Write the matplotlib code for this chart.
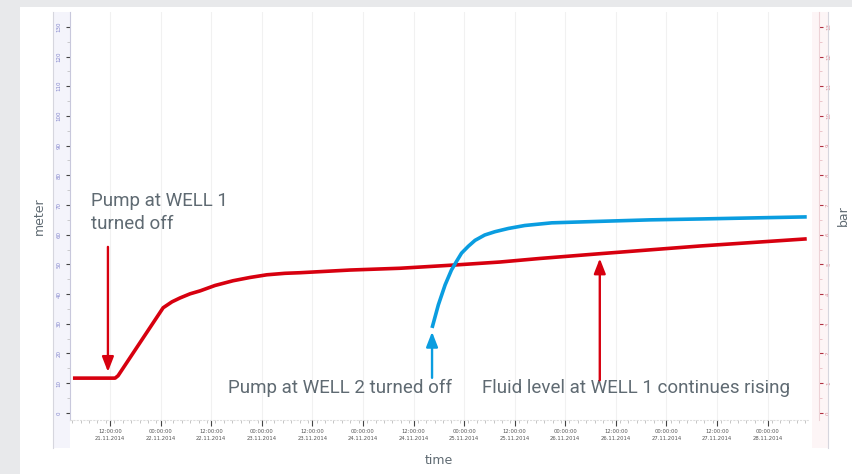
import datetime as dt
import matplotlib
matplotlib.use("Agg")
import matplotlib.pyplot as plt
import matplotlib.dates as mdates
from matplotlib.patches import Rectangle
from matplotlib.lines import Line2D

# hours after 21.11.2014 00:00
start = dt.datetime(2014, 11, 21)

red_hours = [3.2, 13.2, 13.9, 24.6, 26.7, 28.6, 31.0, 33.4, 36.9, 41.2, 45.2, 49.2,
             53.5, 57.1, 68.9, 80.8, 93.8, 104.5, 114.0, 128.2, 152.0, 177.3]
red_meter = [11.7, 11.7, 12.5, 35.4, 37.4, 38.7, 40.1, 41.1, 42.9, 44.5, 45.6, 46.5,
             47.0, 47.2, 48.1, 48.7, 49.8, 50.8, 52.0, 53.6, 56.2, 58.6]

blue_hours = [88.4, 89.9, 91.5, 93.0, 94.2, 95.4, 97.0, 98.6, 100.9, 103.3, 106.5,
              110.4, 116.8, 128.2, 140.1, 152.0, 166.2, 177.3]
blue_bar = [2.86, 3.64, 4.31, 4.81, 5.10, 5.38, 5.61, 5.81, 5.99, 6.10, 6.21,
            6.31, 6.40, 6.45, 6.50, 6.53, 6.57, 6.60]

meter_ticks = list(range(0, 131, 10))
bar_ticks = list(range(0, 14))
major_hours = list(range(12, 169, 12))

red_t = [start + dt.timedelta(hours=h) for h in red_hours]
blue_t = [start + dt.timedelta(hours=h) for h in blue_hours]
major_t = [start + dt.timedelta(hours=h) for h in major_hours]
major_labels = [t.strftime("%H:%M:%S\n%d.%m.%Y") for t in major_t]

RED = "#d7000f"
BLUE = "#0a9de0"
TXT = "#5f6a72"

fig = plt.figure(figsize=(8.53, 4.74), dpi=100, facecolor="#e8e9eb")
fig.patches.append(Rectangle((20 / 853, 0), 1, 1 - 7 / 474, transform=fig.transFigure,
                             facecolor="white", edgecolor="none", zorder=-10))
# ruler strips behind the y tick labels
fig.patches.append(Rectangle((53 / 853, 1 - 448 / 474), 17 / 853, 436 / 474,
                             transform=fig.transFigure, facecolor="#f4f4fb",
                             edgecolor="none", zorder=-9))
fig.patches.append(Rectangle((812 / 853, 1 - 448 / 474), 16 / 853, 436 / 474,
                             transform=fig.transFigure, facecolor="#fdf5f6",
                             edgecolor="none", zorder=-9))
for xp in (53, 828):
    fig.lines.append(Line2D([xp / 853, xp / 853], [1 - 448 / 474, 1 - 12 / 474],
                            transform=fig.transFigure, color="#d6d6de", lw=0.8))

ax = fig.add_axes([70 / 853, 1 - 420 / 474, (808 - 70) / 853, (420 - 12) / 474])
ax.set_facecolor("none")
ax2 = ax.twinx()
ax2.spines["right"].set_position(("outward", 8))

ax.set_xlim(start + dt.timedelta(hours=2.5), start + dt.timedelta(hours=177.6))
ax.set_ylim(-2.4, 135)
ax2.set_ylim(-0.24, 13.5)

ax.plot(red_t, red_meter, color=RED, lw=2.6, solid_capstyle="butt",
        solid_joinstyle="round", zorder=5)
ax2.plot(blue_t, blue_bar, color=BLUE, lw=2.6, solid_capstyle="butt",
         solid_joinstyle="round", zorder=5)

# x axis
ax.set_xticks(major_t)
ax.set_xticklabels(major_labels, fontsize=3.8, color="#555555", linespacing=1.5)
ax.xaxis.set_minor_locator(mdates.HourLocator(interval=2))
ax.tick_params(axis="x", which="major", length=4, width=0.8, color="#444444", pad=2.5)
ax.tick_params(axis="x", which="minor", length=2, width=0.4, color="#999999")
ax.grid(axis="x", which="major", color="#f1f1f1", lw=0.8)

# left axis
ax.set_yticks(meter_ticks)
ax.set_yticklabels([str(v) for v in meter_ticks], rotation=90, va="center",
                   fontsize=4, color="#8385cc")
ax.set_yticks(range(5, 131, 10), minor=True)
ax.tick_params(axis="y", which="major", length=3, width=0.8, color="#444444", pad=3)
ax.tick_params(axis="y", which="minor", length=2, width=0.4, color="#aaaaaa")

# right axis
ax2.set_yticks(bar_ticks)
ax2.set_yticklabels([str(v) for v in bar_ticks], rotation=90, va="center",
                    fontsize=4, color="#d98c99")
ax2.set_yticks([v + 0.5 for v in bar_ticks[:-1]], minor=True)
ax2.tick_params(axis="y", which="major", length=3, width=0.8, color="#b03040", pad=2)
ax2.tick_params(axis="y", which="minor", length=2, width=0.4, color="#e0a0a8")

for a in (ax, ax2):
    a.spines["top"].set_visible(False)
ax.spines["right"].set_visible(False)
ax.spines["left"].set_color("#c8c8dc")
ax.spines["bottom"].set_color("#dddddd")
ax.spines["bottom"].set_linestyle((0, (1, 2)))
ax2.spines["left"].set_visible(False)
ax2.spines["bottom"].set_visible(False)
ax2.spines["right"].set_color("#ecd2d6")

ax.set_xlabel("time", fontsize=9, color=TXT, labelpad=9)
ax.set_ylabel("meter", fontsize=9, color=TXT, labelpad=8)
ax2.set_ylabel("bar", fontsize=9, color=TXT, labelpad=4)

# annotations
arrow_red = dict(arrowstyle="-|>,head_length=0.9,head_width=0.35", color=RED, lw=1.7,
                 shrinkA=0, shrinkB=0)
arrow_blue = dict(arrowstyle="-|>,head_length=0.9,head_width=0.35", color=BLUE, lw=1.7,
                  shrinkA=0, shrinkB=0)

h = lambda x: start + dt.timedelta(hours=x)
ax.annotate("", xy=(h(11.5), 13.8), xytext=(h(11.5), 55.9), arrowprops=arrow_red, zorder=6)
ax.annotate("", xy=(h(88.4), 27.3), xytext=(h(88.4), 11.8), arrowprops=arrow_blue, zorder=6)
ax.annotate("", xy=(h(128.2), 52.0), xytext=(h(128.2), 11.0), arrowprops=arrow_red, zorder=6)

font = dict(family="Roboto", fontsize=13.5, color=TXT)
ax.text(h(7.5), 67.5, "Pump at WELL 1\nturned off", ha="left", va="center",
        linespacing=1.3, **font)
ax.text(h(93.1), 8.4, "Pump at WELL 2 turned off", ha="right", va="center", **font)
ax.text(h(100.3), 8.4, "Fluid level at WELL 1 continues rising", ha="left", va="center",
        **font)

fig.savefig("out.png", dpi=100, facecolor=fig.get_facecolor())
